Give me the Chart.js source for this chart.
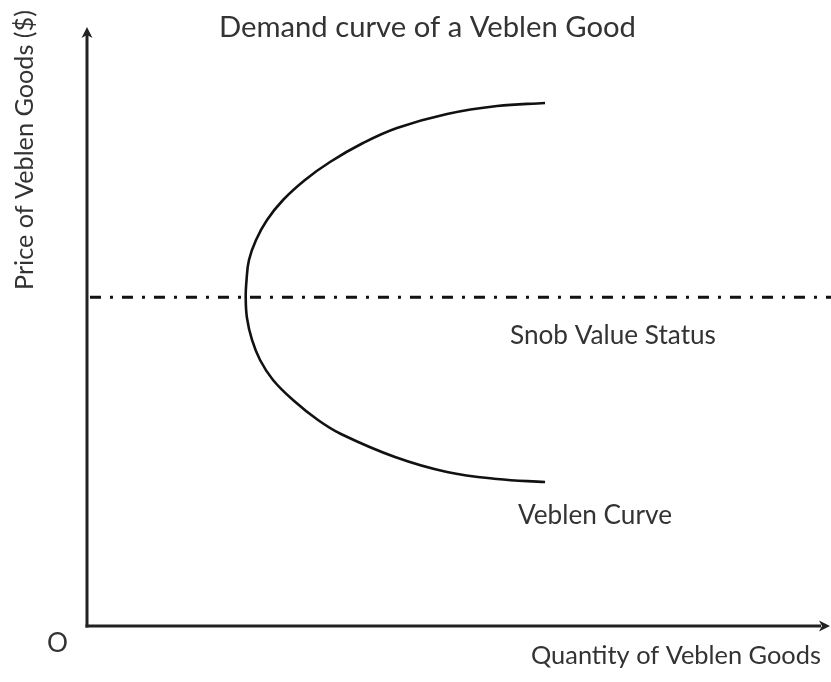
<!DOCTYPE html>
<html>
<head>
<meta charset="utf-8">
<script src="https://cdn.jsdelivr.net/npm/chart.js@4.4.1/dist/chart.umd.min.js"></script>
<style>
  html, body { margin: 0; padding: 0; background: #ffffff; }
  #wrap { width: 831px; height: 682px; position: relative; }
</style>
</head>
<body>
<div id="wrap"><canvas id="c"></canvas></div>
<script>
// ---- Data (quantity 0-100, price 0-100) ----
const curveQuantity = [61.73, 55.26, 48.52, 41.78, 37.20, 32.75, 29.38, 26.42, 24.26, 22.78, 21.83, 21.50, 21.39,
                       21.56, 22.24, 23.32, 25.07, 27.76, 31.13, 34.23, 41.51, 48.52, 55.26, 61.73];
const curvePrice    = [87.31, 86.81, 85.48, 83.14, 80.63, 77.46, 74.46, 71.12, 67.78, 64.44, 61.10, 57.76, 54.92,
                       51.42, 47.75, 44.41, 41.07, 37.73, 34.39, 32.05, 28.21, 25.71, 24.54, 24.04];
const snobQuantity  = [0.4, 100.3];
const snobPrice     = [54.9, 54.9];

const titleText   = "Demand curve of a Veblen Good";
const xAxisText   = "Quantity of Veblen Goods";
const yAxisText   = "Price of Veblen Goods ($)";
const snobLabel   = "Snob Value Status";
const curveLabel  = "Veblen Curve";
const originLabel = "O";

const curveData = curveQuantity.map((q, i) => ({ x: q, y: curvePrice[i] }));
const snobData  = snobQuantity.map((q, i) => ({ x: q, y: snobPrice[i] }));

const FONT = "Lato, Carlito, 'Open Sans', sans-serif";
const TEXT_COLOR = "#333333";
const AXIS_COLOR = "#222222";

function fitText(ctx, text, left, baseline, width, basePx) {
  ctx.font = basePx + "px " + FONT;
  const w = ctx.measureText(text).width;
  const size = basePx * width / w;
  ctx.font = size.toFixed(2) + "px " + FONT;
  ctx.fillText(text, left, baseline);
}

const decorPlugin = {
  id: 'decor',
  beforeDatasetsDraw(chart) {
    const ctx = chart.ctx;
    const xs = chart.scales.x, ys = chart.scales.y;
    const x0 = xs.getPixelForValue(0), y0 = ys.getPixelForValue(0);
    const xTop = ys.getPixelForValue(100), xRight = xs.getPixelForValue(100);
    ctx.save();
    ctx.strokeStyle = AXIS_COLOR;
    ctx.fillStyle = AXIS_COLOR;
    ctx.lineWidth = 3;
    ctx.lineCap = 'butt';
    ctx.beginPath();
    ctx.moveTo(x0, y0 + 1.5);
    ctx.lineTo(x0, xTop + 8);
    ctx.stroke();
    ctx.beginPath();
    ctx.moveTo(x0 - 1.5, y0);
    ctx.lineTo(xRight - 8, y0);
    ctx.stroke();
    ctx.beginPath();
    ctx.moveTo(x0, xTop);
    ctx.lineTo(x0 - 5.5, xTop + 11);
    ctx.lineTo(x0, xTop + 8);
    ctx.lineTo(x0 + 5.5, xTop + 11);
    ctx.closePath();
    ctx.fill();
    ctx.beginPath();
    ctx.moveTo(xRight + 1, y0);
    ctx.lineTo(xRight - 10, y0 - 5.5);
    ctx.lineTo(xRight - 7, y0);
    ctx.lineTo(xRight - 10, y0 + 5.5);
    ctx.closePath();
    ctx.fill();
    ctx.restore();
  },
  afterDraw(chart) {
    const ctx = chart.ctx;
    ctx.save();
    ctx.fillStyle = TEXT_COLOR;
    ctx.textBaseline = 'alphabetic';
    ctx.textAlign = 'left';
    fitText(ctx, titleText, 219, 37, 417, 28);
    fitText(ctx, snobLabel, 510, 344, 206, 28);
    fitText(ctx, curveLabel, 518, 524, 154, 28);
    fitText(ctx, xAxisText, 531, 664, 290, 28);
    fitText(ctx, originLabel, 47, 652, 21, 28);
    ctx.save();
    ctx.translate(33, 290);
    ctx.rotate(-Math.PI / 2);
    fitText(ctx, yAxisText, 0, 0, 280, 28);
    ctx.restore();
    ctx.restore();
  }
};

new Chart(document.getElementById('c'), {
  type: 'scatter',
  data: {
    datasets: [
      {
        label: curveLabel,
        data: curveData,
        showLine: true,
        borderColor: '#111111',
        borderWidth: 2.6,
        pointRadius: 0,
        tension: 0.4,
        fill: false,
        clip: false
      },
      {
        label: snobLabel,
        data: snobData,
        showLine: true,
        borderColor: '#111111',
        borderWidth: 3,
        borderDash: [11, 9, 3, 9],
        pointRadius: 0,
        fill: false,
        clip: false
      }
    ]
  },
  options: {
    responsive: true,
    maintainAspectRatio: false,
    animation: false,
    layout: { padding: { left: 87, right: 2, top: 27, bottom: 56 } },
    plugins: {
      legend: { display: false },
      title: { display: false },
      tooltip: { enabled: false }
    },
    scales: {
      x: { type: 'linear', min: 0, max: 100, display: false },
      y: { type: 'linear', min: 0, max: 100, display: false }
    }
  },
  plugins: [decorPlugin]
});
</script>
</body>
</html>
